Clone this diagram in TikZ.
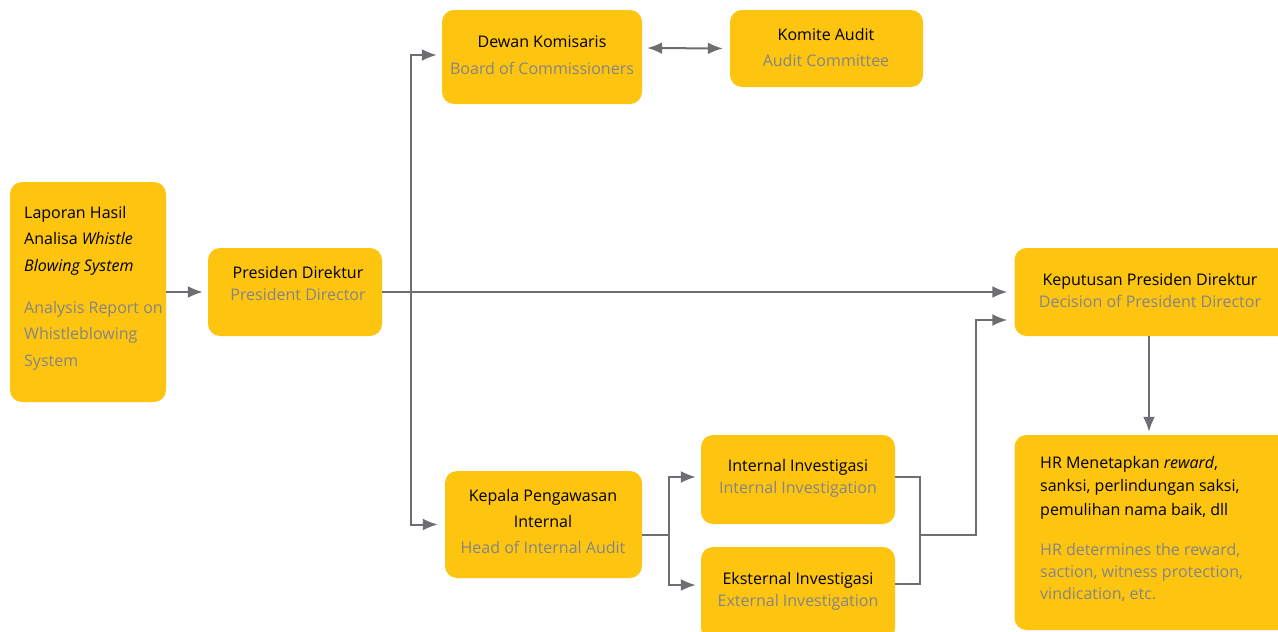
\documentclass[tikz,border=0pt]{standalone}
\usepackage{fontspec,xcolor}
\setmainfont{Open Sans}
\usetikzlibrary {arrows.meta}
\usetikzlibrary{calc}
\definecolor{boxyellow}{HTML}{FDC410}
\definecolor{subgray}{HTML}{858585}
\definecolor{linegray}{HTML}{6D6E71}

\begin{document}
\begin{tikzpicture}[x=1pt,y=-1pt,
		box/.style={fill=boxyellow,rounded corners=12pt,inner sep=0pt},
		txt/.style={font=\fontsize{16}{22}\selectfont,inner sep=0pt,text=black},
		arr/.style={draw=linegray,line width=2pt,-{Latex[length=15pt,width=12pt]},shorten >=5pt},
		con/.style={draw=linegray,line width=2pt}
	]
				\useasboundingbox (0,0) rectangle (1278,632);

				\node[box,minimum width=156pt,minimum height=220pt] (lapbox) at (88,292) {};
				\node[box,minimum width=174pt,minimum height=88pt] (presbox) at (295,292) {};
				\node[box,minimum width=200pt,minimum height=94pt] (dewanbox) at (542,57) {};
				\node[box,minimum width=193pt,minimum height=77pt] (kombox) at (826.5,48.5) {};
				\node[box,minimum width=197pt,minimum height=107pt] (kepalabox) at (543.5,524.5) {};
				\node[box,minimum width=194pt,minimum height=89pt] (intbox) at (798,479.5) {};
				\node[box,minimum width=194pt,minimum height=93pt] (eksbox) at (798,593.5) {};
				\node[box,minimum width=275pt,minimum height=88pt] (kepbox) at (1152,292) {};
				\node[box,minimum width=275pt,minimum height=195pt] (hrbox) at (1152,532.5) {};

				\node[txt,align=left,anchor=west] (laptxt) at (24,288)
				{Laporan Hasil\\[4.5pt]Analisa \textit{Whistle}\\[4.5pt]\textit{Blowing System}\\[20pt]
				{\color{subgray}Analysis Report on}\\[4.5pt]{\color{subgray}Whistleblowing}\\[4.5pt]{\color{subgray}System}};
				\node[txt,align=center] (prestxt) at (298,283) {Presiden Direktur\\{\color{subgray}President Director}};
				\node[txt,align=center] (dewantxt) at (542,55.5) {Dewan Komisaris\\[5pt]{\color{subgray}Board of Commissioners}};
				\node[txt,align=center] (komtxt) at (826,47) {Komite Audit\\[4pt]{\color{subgray}Audit Committee}};
				\node[txt,align=center] (kepalatxt) at (543,521.5) {Kepala Pengawasan\\[4pt]Internal\\[4pt]{\color{subgray}Head of Internal Audit}};
				\node[txt,align=center] (inttxt) at (798,478) {Internal Investigasi\\{\color{subgray}Internal Investigation}};
				\node[txt,align=center] (ekstxt) at (798,591.5) {Eksternal Investigasi\\{\color{subgray}External Investigation}};
				\node[txt,align=center] (keptxt) at (1150,290) {Keputusan Presiden Direktur\\{\color{subgray}Decision of President Director}};
				\node[txt,align=left,anchor=west] (hrtxt) at (1040,528.5)
				{HR Menetapkan \textit{reward},\\[1.5pt]sanksi, perlindungan saksi,\\[1.5pt]pemulihan nama baik, dll\\[18pt]
				{\color{subgray}HR determines the reward,}\\{\color{subgray}saction, witness protection,}\\{\color{subgray}vindication, etc.}};

				\coordinate (trunk) at (411,292);
				\coordinate (split) at (669,535);
				\coordinate (merge) at (920,535);

				\draw[arr] (lapbox.east) -- (presbox.west);
				\draw[arr,shorten >=7pt] (presbox.east) -- (kepbox.west);
				\draw[arr] (trunk) |- ([yshift=2pt]dewanbox.west);
				\draw[arr,shorten >=7pt] (trunk) |- (kepalabox.west);
				\draw[arr,{Latex[length=15pt,width=12pt]}-{Latex[length=15pt,width=12pt]},shorten <=5pt,shorten >=7pt]
				([yshift=9pt]dewanbox.east) -- (kombox.west);

				\draw[con] (kepalabox.east |- split) -- (split);
				\draw[arr] (split) |- ([yshift=2.5pt]intbox.west);
				\draw[arr] (split) |- ([yshift=8.5pt]eksbox.west);
				\draw[con] ([yshift=2.5pt]intbox.east) -| (merge) |- ([yshift=9.5pt]eksbox.east);
				\draw[arr,shorten >=7pt] (merge) -- (976,535) |- ([yshift=-28pt]kepbox.west);
				\draw[arr,shorten >=3pt] ([xshift=-3pt]kepbox.south) -- ([xshift=-3pt]hrbox.north);
\end{tikzpicture}
\end{document}
